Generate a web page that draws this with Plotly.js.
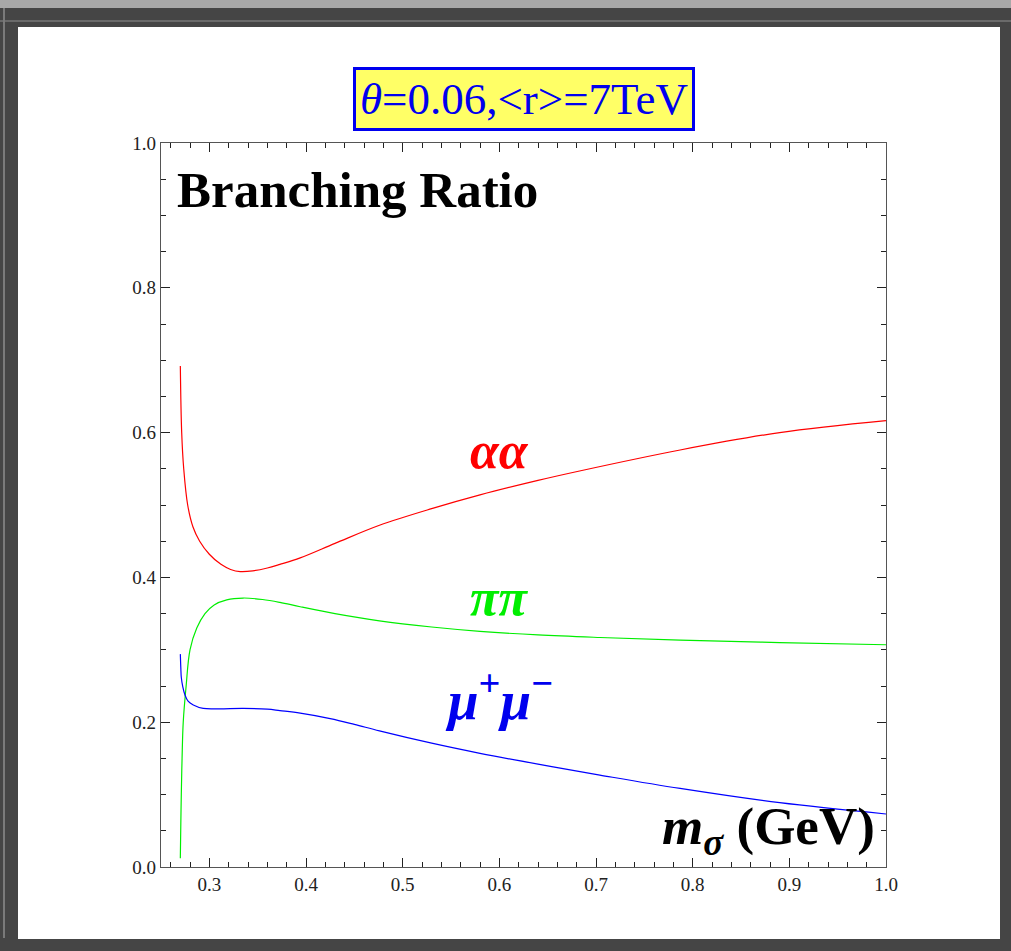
<!DOCTYPE html>
<html>
<head>
<meta charset="utf-8">
<script src="https://cdn.plot.ly/plotly-3.0.1.min.js"></script>
<style>
  html, body { margin: 0; padding: 0; width: 1011px; height: 951px; overflow: hidden; background: #a8a8a8; }
  #frame { position: absolute; left: 0; top: 8px; width: 1011px; height: 943px; background: #454545; }
  #inner { position: absolute; left: 18px; top: 27px; width: 982px; height: 912px; background: #ffffff; }
  #streak1 { position: absolute; left: 0; top: 20px; width: 1011px; height: 2px; background: #6a6a6a; }
  #streak2 { position: absolute; left: 3px; top: 8px; width: 2px; height: 930px; background: #7a7a7a; }
  #plot { position: absolute; left: 0; top: 0; width: 1011px; height: 951px; }
</style>
</head>
<body>
<div id="frame"></div>
<div id="streak1"></div>
<div id="streak2"></div>
<div id="inner"></div>
<div id="plot"></div>
<script>
// m_sigma (GeV) and branching ratios
const xAA = [0.270, 0.2714, 0.2735, 0.2776, 0.283, 0.290, 0.300, 0.312, 0.322, 0.332, 0.345, 0.360, 0.373, 0.394, 0.430, 0.476, 0.530, 0.580, 0.640, 0.683, 0.787, 0.890, 1.000];
const yAA = [0.692, 0.600, 0.550, 0.500, 0.470, 0.450, 0.432, 0.418, 0.411, 0.408, 0.409, 0.413, 0.418, 0.427, 0.447, 0.472, 0.495, 0.514, 0.534, 0.547, 0.576, 0.600, 0.6165];

const xPP = [0.270, 0.2705, 0.271, 0.2718, 0.273, 0.276, 0.280, 0.287, 0.2955, 0.305, 0.318, 0.335, 0.355, 0.373, 0.394, 0.430, 0.476, 0.530, 0.580, 0.640, 0.704, 0.787, 0.890, 1.000];
const yPP = [0.012, 0.060, 0.100, 0.150, 0.200, 0.250, 0.300, 0.330, 0.350, 0.362, 0.369, 0.3715, 0.3695, 0.3655, 0.3595, 0.350, 0.340, 0.3315, 0.3255, 0.3205, 0.317, 0.3135, 0.310, 0.307];

const xMM = [0.270, 0.2705, 0.271, 0.2725, 0.2748, 0.278, 0.2834, 0.2937, 0.310, 0.335, 0.360, 0.373, 0.394, 0.425, 0.450, 0.476, 0.530, 0.580, 0.640, 0.704, 0.787, 0.890, 1.000];
const yMM = [0.294, 0.275, 0.262, 0.249, 0.2375, 0.229, 0.2238, 0.2190, 0.2185, 0.219, 0.218, 0.216, 0.2125, 0.205, 0.197, 0.188, 0.171, 0.157, 0.142, 0.127, 0.1085, 0.0888, 0.0732];

const serif = "Liberation Serif, Times New Roman, serif";

const traces = [
  { x: xAA, y: yAA, mode: 'lines', line: { color: '#ff0000', width: 1.2, shape: 'spline', smoothing: 1 }, hoverinfo: 'skip' },
  { x: xPP, y: yPP, mode: 'lines', line: { color: '#00ee00', width: 1.2, shape: 'spline', smoothing: 1 }, hoverinfo: 'skip' },
  { x: xMM, y: yMM, mode: 'lines', line: { color: '#0000ff', width: 1.2, shape: 'spline', smoothing: 1 }, hoverinfo: 'skip' }
];

const axisCommon = {
  showgrid: false, zeroline: false,
  showline: true, linecolor: '#555', linewidth: 1.2, mirror: 'ticks',
  ticks: 'inside', ticklen: 9, tickwidth: 1, tickcolor: '#222',
  tickfont: { family: serif, size: 19, color: '#222' }
};

const layout = {
  width: 1011, height: 951,
  margin: { l: 161, r: 125, t: 143, b: 84 },
  paper_bgcolor: 'rgba(0,0,0,0)',
  plot_bgcolor: '#ffffff',
  showlegend: false,
  xaxis: Object.assign({}, axisCommon, {
    range: [0.25, 1.0], tick0: 0, dtick: 0.1, tickformat: '.1f',
    minor: { dtick: 0.02, tick0: 0, ticks: 'inside', ticklen: 5, tickcolor: '#222', showgrid: false }
  }),
  yaxis: Object.assign({}, axisCommon, {
    range: [0, 1.0], tick0: 0, dtick: 0.2, tickformat: '.1f',
    minor: { dtick: 0.05, tick0: 0, ticks: 'inside', ticklen: 5, tickcolor: '#222', showgrid: false }
  }),
  annotations: [
    { xref: 'paper', yref: 'paper', x: 0.5, y: 1.061, xanchor: 'center', yanchor: 'middle',
      text: '<i>θ</i>=0.06,&lt;r&gt;=7TeV', showarrow: false,
      font: { family: serif, size: 45, color: '#0000ee' },
      bgcolor: '#ffff66', bordercolor: '#0000ee', borderwidth: 3, borderpad: 4 },
    { xref: 'paper', yref: 'paper', x: 0.019, y: 0.935, xanchor: 'left', yanchor: 'middle',
      text: '<b>Branching Ratio</b>', showarrow: false,
      font: { family: serif, size: 51, color: '#000000' } },
    { xref: 'x', yref: 'y', x: 0.6, y: 0.575, xanchor: 'center', yanchor: 'middle',
      text: '<b><i>αα</i></b>', showarrow: false,
      font: { family: serif, size: 52, color: '#ff0000' } },
    { xref: 'x', yref: 'y', x: 0.6, y: 0.372, xanchor: 'center', yanchor: 'middle',
      text: '<b><i>ππ</i></b>', showarrow: false,
      font: { family: serif, size: 52, color: '#00ee00' } },
    { xref: 'x', yref: 'y', x: 0.6, y: 0.236, xanchor: 'center', yanchor: 'middle',
      text: '<b><i>μ</i><sup>+</sup><i>μ</i><sup>−</sup></b>', showarrow: false,
      font: { family: serif, size: 55, color: '#0000ee' } },
    { xref: 'paper', yref: 'paper', x: 0.988, y: 0.051, xanchor: 'right', yanchor: 'middle',
      text: '<b><i>m</i><sub><i>σ</i></sub> (GeV)</b>', showarrow: false,
      font: { family: serif, size: 53, color: '#000000' } }
  ]
};

Plotly.newPlot('plot', traces, layout, { displayModeBar: false, staticPlot: true });
</script>
</body>
</html>
